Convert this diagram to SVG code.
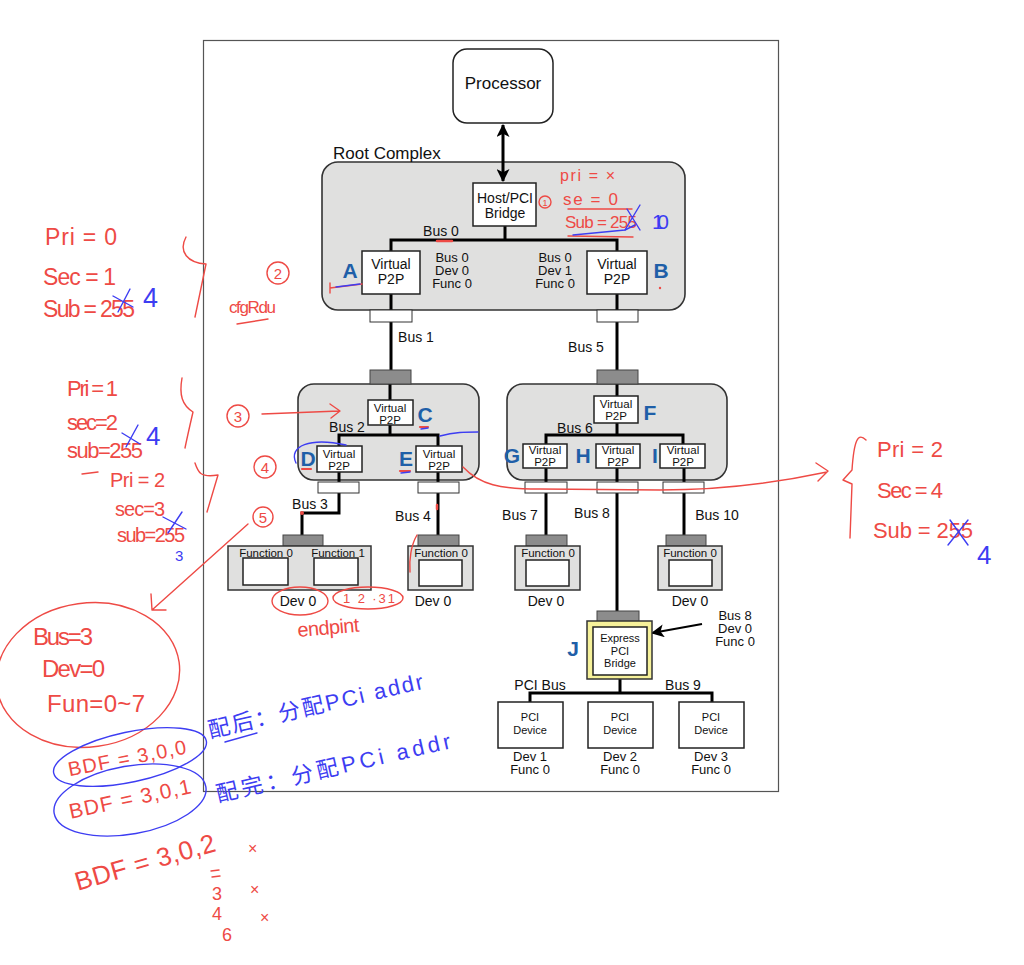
<svg xmlns="http://www.w3.org/2000/svg" width="1024" height="965" viewBox="0 0 1024 965">
<defs>
<marker id="ah" viewBox="0 0 12 12" refX="11" refY="6" markerWidth="13" markerHeight="13" markerUnits="userSpaceOnUse" orient="auto-start-reverse"><path d="M0,0 L12,6 L0,12 L3,6 z" fill="#000"/></marker>
</defs>
<style>
.t{font-family:"Liberation Sans",Arial,sans-serif;fill:#111;text-anchor:middle}
.box{fill:#fff;stroke:#222;stroke-width:1.5}
.grp{fill:#e0e0df;stroke:#333;stroke-width:1.6}
.port{fill:#8c8c8c;stroke:#444;stroke-width:1}
.wport{fill:#fff;stroke:#333;stroke-width:1}
.bus{stroke:#000;stroke-width:3;fill:none}
.lbl{font-family:"Liberation Sans",Arial,sans-serif;font-weight:bold;fill:#1f5fa8;text-anchor:middle;font-size:21px}
.hr{fill:none;stroke:#ee4a45;stroke-width:1.4;stroke-linecap:round;stroke-linejoin:round}
.hb{fill:none;stroke:#3d3df2;stroke-width:1.4;stroke-linecap:round;stroke-linejoin:round}
.tr{font-family:"Liberation Sans","Noto Sans CJK SC",sans-serif;fill:#ee4a45}
.tb{font-family:"Liberation Sans","Noto Sans CJK SC",sans-serif;fill:#3d3df2}
</style>
<rect x="0" y="0" width="1024" height="965" fill="#fff"/>
<rect x="203.5" y="40.5" width="575" height="751" fill="#fff" stroke="#555" stroke-width="1.2"/>

<g id="root-complex">
<rect class="grp" x="322" y="162" width="363" height="148" rx="16"/>
<text class="t" x="333" y="159" font-size="17" style="text-anchor:start">Root Complex</text>
</g>
<g id="switch-left"><rect class="grp" x="298" y="384" width="181" height="96" rx="16"/></g>
<g id="switch-right"><rect class="grp" x="507" y="384" width="220" height="96" rx="16"/></g>

<g id="connectors">
<line class="bus" x1="503" y1="125" x2="503" y2="181" marker-start="url(#ah)" marker-end="url(#ah)"/>
<path class="bus" d="M505,226 V240"/>
<path class="bus" d="M391,251 V240 H617 V251"/>
<path class="bus" d="M391,294 V372"/>
<path class="bus" d="M617,294 V372"/>
<path class="bus" d="M390,384 V400"/>
<path class="bus" d="M390,425 V435"/>
<path class="bus" d="M339,446 V435 H438 V446"/>
<path class="bus" d="M339,472 V513 H302 V535"/>
<path class="bus" d="M438,472 V535"/>
<path class="bus" d="M617,384 V396"/>
<path class="bus" d="M617,423 V435"/>
<path class="bus" d="M546,444 V435 H683 V444"/>
<path class="bus" d="M546,468 V535"/>
<path class="bus" d="M617,468 V611"/>
<path class="bus" d="M684,468 V535"/>
<path class="bus" d="M620,679 V693"/>
<path class="bus" d="M530,702 V693 H712 V702"/>
<line x1="702" y1="624" x2="652" y2="633" stroke="#000" stroke-width="2" marker-end="url(#ah)"/>
</g>

<g id="processor">
<rect class="box" x="453" y="49" width="100" height="74" rx="14"/>
<text class="t" x="503" y="89" font-size="17">Processor</text>
</g>
<g id="host-bridge">
<rect class="box" x="473" y="183" width="63" height="43"/>
<text class="t" x="505" y="203" font-size="14"><tspan x="505">Host/PCI</tspan><tspan x="505" dy="15">Bridge</tspan></text>
</g>
<g id="node-A">
<rect class="box" x="362" y="251" width="58" height="43"/>
<text class="t" x="391" y="269" font-size="14"><tspan x="391">Virtual</tspan><tspan x="391" dy="15">P2P</tspan></text>
<text class="lbl" x="350" y="278">A</text>
<text class="t" x="452" y="262" font-size="13"><tspan x="452">Bus 0</tspan><tspan x="452" dy="13">Dev 0</tspan><tspan x="452" dy="13">Func 0</tspan></text>
</g>
<g id="node-B">
<rect class="box" x="587" y="251" width="60" height="43"/>
<text class="t" x="617" y="269" font-size="14"><tspan x="617">Virtual</tspan><tspan x="617" dy="15">P2P</tspan></text>
<text class="lbl" x="661" y="278">B</text>
<text class="t" x="555" y="262" font-size="13"><tspan x="555">Bus 0</tspan><tspan x="555" dy="13">Dev 1</tspan><tspan x="555" dy="13">Func 0</tspan></text>
</g>
<g id="rc-ports">
<rect class="wport" x="370" y="310" width="42" height="12"/>
<rect class="wport" x="597" y="310" width="41" height="12"/>
</g>
<g id="bus-labels">
<text class="t" x="441" y="236" font-size="14">Bus 0</text>
<text class="t" x="416" y="342" font-size="14">Bus 1</text>
<text class="t" x="586" y="352" font-size="14">Bus 5</text>
<text class="t" x="347" y="432" font-size="14">Bus 2</text>
<text class="t" x="575" y="433" font-size="14">Bus 6</text>
<text class="t" x="310" y="509" font-size="14">Bus 3</text>
<text class="t" x="413" y="521" font-size="14">Bus 4</text>
<text class="t" x="520" y="520" font-size="14">Bus 7</text>
<text class="t" x="592" y="518" font-size="14">Bus 8</text>
<text class="t" x="717" y="520" font-size="14">Bus 10</text>
<text class="t" x="540" y="690" font-size="14">PCI Bus</text>
<text class="t" x="683" y="690" font-size="14">Bus 9</text>
</g>

<g id="node-C">
<rect class="port" x="370" y="370" width="41" height="14"/>
<rect class="box" x="368" y="400" width="45" height="25"/>
<text class="t" x="390" y="411.5" font-size="11.5"><tspan x="390">Virtual</tspan><tspan x="390" dy="12">P2P</tspan></text>
<text class="lbl" x="425" y="422">C</text>
</g>
<g id="node-D">
<rect class="box" x="317" y="446" width="45" height="26"/>
<text class="t" x="339" y="458" font-size="11.5"><tspan x="339">Virtual</tspan><tspan x="339" dy="12">P2P</tspan></text>
<text class="lbl" x="308" y="466">D</text>
<rect class="wport" x="318" y="482" width="41" height="11"/>
</g>
<g id="node-E">
<rect class="box" x="416" y="446" width="46" height="26"/>
<text class="t" x="439" y="458" font-size="11.5"><tspan x="439">Virtual</tspan><tspan x="439" dy="12">P2P</tspan></text>
<text class="lbl" x="406" y="466">E</text>
<rect class="wport" x="418" y="482" width="41" height="11"/>
</g>
<g id="node-F">
<rect class="port" x="597" y="370" width="41" height="14"/>
<rect class="box" x="594" y="396" width="44" height="27"/>
<text class="t" x="616" y="408" font-size="11.5"><tspan x="616">Virtual</tspan><tspan x="616" dy="12">P2P</tspan></text>
<text class="lbl" x="650" y="420">F</text>
</g>
<g id="node-G">
<rect class="box" x="523" y="444" width="44" height="24"/>
<text class="t" x="545" y="454" font-size="11.5"><tspan x="545">Virtual</tspan><tspan x="545" dy="12">P2P</tspan></text>
<text class="lbl" x="512" y="463">G</text>
<rect class="wport" x="525" y="482" width="42" height="11"/>
</g>
<g id="node-H">
<rect class="box" x="596" y="444" width="44" height="24"/>
<text class="t" x="618" y="454" font-size="11.5"><tspan x="618">Virtual</tspan><tspan x="618" dy="12">P2P</tspan></text>
<text class="lbl" x="583" y="463">H</text>
<rect class="wport" x="597" y="482" width="41" height="11"/>
</g>
<g id="node-I">
<rect class="box" x="660" y="444" width="45" height="24"/>
<text class="t" x="683" y="454" font-size="11.5"><tspan x="683">Virtual</tspan><tspan x="683" dy="12">P2P</tspan></text>
<text class="lbl" x="655" y="463">I</text>
<rect class="wport" x="663" y="482" width="41" height="11"/>
</g>

<g id="dev-bus3">
<rect class="port" x="283" y="535" width="40" height="11"/>
<rect class="grp" x="228" y="546" width="143" height="44" style="stroke-width:1.5"/>
<text class="t" x="266" y="557" font-size="11.5">Function 0</text>
<text class="t" x="338" y="557" font-size="11.5">Function 1</text>
<rect class="box" x="243" y="558" width="45" height="27"/>
<rect class="box" x="314" y="558" width="44" height="27"/>
<text class="t" x="298" y="606" font-size="14">Dev 0</text>
</g>
<g id="dev-bus4">
<rect class="port" x="418" y="535" width="41" height="11"/>
<rect class="grp" x="408" y="546" width="65" height="44" style="stroke-width:1.5"/>
<text class="t" x="441" y="557" font-size="11.5">Function 0</text>
<rect class="box" x="419" y="560" width="43" height="26"/>
<text class="t" x="433" y="606" font-size="14">Dev 0</text>
</g>
<g id="dev-bus7">
<rect class="port" x="526" y="535" width="41" height="11"/>
<rect class="grp" x="515" y="546" width="65" height="44" style="stroke-width:1.5"/>
<text class="t" x="548" y="557" font-size="11.5">Function 0</text>
<rect class="box" x="526" y="560" width="43" height="26"/>
<text class="t" x="546" y="606" font-size="14">Dev 0</text>
</g>
<g id="dev-bus10">
<rect class="port" x="666" y="535" width="40" height="11"/>
<rect class="grp" x="658" y="546" width="64" height="44" style="stroke-width:1.5"/>
<text class="t" x="690" y="557" font-size="11.5">Function 0</text>
<rect class="box" x="669" y="560" width="43" height="26"/>
<text class="t" x="690" y="606" font-size="14">Dev 0</text>
</g>

<g id="node-J">
<rect class="port" x="597" y="611" width="42" height="11"/>
<rect x="587" y="621" width="65" height="58" fill="#f6f19a" stroke="#333" stroke-width="1.5"/>
<rect class="box" x="593" y="627" width="54" height="48"/>
<text class="t" x="620" y="642" font-size="11"><tspan x="620">Express</tspan><tspan x="620" dy="12.5">PCI</tspan><tspan x="620" dy="12.5">Bridge</tspan></text>
<text class="lbl" x="573" y="656">J</text>
<text class="t" x="735" y="620" font-size="13"><tspan x="735">Bus 8</tspan><tspan x="735" dy="13">Dev 0</tspan><tspan x="735" dy="13">Func 0</tspan></text>
</g>
<g id="pci-dev1">
<rect class="box" x="498" y="702" width="65" height="46"/>
<text class="t" x="530" y="721" font-size="11"><tspan x="530">PCI</tspan><tspan x="530" dy="12.5">Device</tspan></text>
<text class="t" x="530" y="761" font-size="13"><tspan x="530">Dev 1</tspan><tspan x="530" dy="13">Func 0</tspan></text>
</g>
<g id="pci-dev2">
<rect class="box" x="588" y="702" width="65" height="46"/>
<text class="t" x="620" y="721" font-size="11"><tspan x="620">PCI</tspan><tspan x="620" dy="12.5">Device</tspan></text>
<text class="t" x="620" y="761" font-size="13"><tspan x="620">Dev 2</tspan><tspan x="620" dy="13">Func 0</tspan></text>
</g>
<g id="pci-dev3">
<rect class="box" x="679" y="702" width="65" height="46"/>
<text class="t" x="711" y="721" font-size="11"><tspan x="711">PCI</tspan><tspan x="711" dy="12.5">Device</tspan></text>
<text class="t" x="711" y="761" font-size="13"><tspan x="711">Dev 3</tspan><tspan x="711" dy="13">Func 0</tspan></text>
</g>

<g id="annotations">
<!-- root complex note -->
<circle class="hr" cx="545" cy="202" r="6"/>
<text class="tr" x="545" y="206" font-size="9" text-anchor="middle">1</text>
<text class="tr" x="560" y="181" font-size="16" textLength="55">pri = ×</text>
<text class="tr" x="563" y="205" font-size="17" textLength="55">se = 0</text>
<path class="hr" d="M568,209 L632,209"/>
<text class="tr" x="565" y="228" font-size="17" textLength="72">Sub = 255</text>
<path class="hb" d="M627,209 L640,230 M640,205 L625,230"/>
<text class="tb" x="652" y="229" font-size="21" textLength="17">10</text>
<path class="hr" d="M568,236 L633,237"/>
<path class="hb" d="M573,235 L625,230 L635,225"/>
<path class="hr" d="M437,241 L452,241" style="stroke-width:2.5"/>
<path class="hr" d="M330,288 L362,284 M330,283 L330,293"/>
<path class="hb" d="M336,287 L360,284"/>
<circle cx="660" cy="288" r="1.2" fill="#ee4a45"/>

<!-- left top block -->
<text class="tr" x="45" y="245" font-size="23" textLength="72">Pri = 0</text>
<text class="tr" x="43" y="285" font-size="23" textLength="73">Sec = 1</text>
<text class="tr" x="43" y="317" font-size="23" textLength="92">Sub = 255</text>
<path class="hb" d="M113,296 L133,307 M130,289 L118,312"/>
<text class="tb" x="143" y="307" font-size="27">4</text>
<path class="hr" d="M186,237 C178,252 188,263 206,264 L195,317"/>
<circle class="hr" cx="278" cy="273" r="11"/>
<text class="tr" x="278" y="279" font-size="15" text-anchor="middle">2</text>
<text class="tr" x="229" y="313" font-size="17" textLength="47">cfgRdu</text>
<path class="hr" d="M237,324 L268,319"/>

<!-- second block -->
<text class="tr" x="67" y="396" font-size="22" textLength="51">Pri = 1</text>
<text class="tr" x="67" y="430" font-size="22" textLength="51">sec=2</text>
<text class="tr" x="67" y="458" font-size="22" textLength="76">sub=255</text>
<path class="hb" d="M122,433 L140,444 M138,425 L126,447"/>
<text class="tb" x="146" y="445" font-size="26">4</text>
<path class="hr" d="M182,378 C179,395 182,405 193,412 C190,425 187,438 185,448"/>
<circle class="hr" cx="238" cy="416" r="11"/>
<text class="tr" x="238" y="422" font-size="15" text-anchor="middle">3</text>
<path class="hr" d="M262,414 L339,411 M330,404 L340,411 L331,418"/>

<!-- third block -->
<path class="hr" d="M82,474 L98,472"/>
<text class="tr" x="110" y="487" font-size="20" textLength="55">Pri = 2</text>
<text class="tr" x="115" y="516" font-size="20" textLength="50">sec=3</text>
<text class="tr" x="117" y="542" font-size="20" textLength="68">sub=255</text>
<path class="hb" d="M163,517 L186,529 M182,512 L168,533"/>
<text class="tb" x="175" y="561" font-size="15">3</text>
<path class="hr" d="M195,463 C198,472 200,478 218,475 L207,512"/>
<circle class="hr" cx="265" cy="467" r="11"/>
<text class="tr" x="265" y="473" font-size="15" text-anchor="middle">4</text>
<circle class="hr" cx="263" cy="517" r="10"/>
<text class="tr" x="263" y="523" font-size="15" text-anchor="middle">5</text>
<path class="hr" d="M248,524 L152,610 M151,594 L152,610 L166,610"/>

<!-- marks in switches -->
<path class="hb" d="M296,463 C288,446 310,437 346,445"/>
<path class="hb" d="M440,436 C455,432 465,432 478,432"/>
<path class="hr" d="M420,427 L428,427" style="stroke-width:2.2"/>
<path class="hb" d="M421,429 L428,428"/>
<path class="hr" d="M302,469 L311,469" style="stroke-width:2.2"/>
<path class="hr" d="M400,471 L410,471" style="stroke-width:2.2"/>
<path class="hb" d="M401,473 L410,472"/>
<path class="hr" d="M417,535 C411,545 409,560 410,572"/>
<path class="hr" d="M437,505 L437,509" style="stroke-width:2.5"/>
<circle cx="302" cy="513" r="2" fill="#ee4a45"/>

<!-- right note -->
<path class="hr" d="M463,467 C480,485 500,489 540,489 L660,490 C720,490 780,482 827,472 M816,463 L828,471 L818,481"/>
<path class="hr" d="M866,440 C858,432 854,440 852,470 L843,480 L852,484 L850,538"/>
<text class="tr" x="877" y="457" font-size="22" textLength="66">Pri = 2</text>
<text class="tr" x="877" y="498" font-size="22" textLength="66">Sec = 4</text>
<text class="tr" x="873" y="538" font-size="22" textLength="100">Sub = 255</text>
<path class="hb" d="M950,520 L968,545 M968,520 L948,545"/>
<text class="tb" x="977" y="564" font-size="26">4</text>

<!-- dev0 ellipses -->
<ellipse class="hr" cx="300" cy="601" rx="28" ry="14"/>
<ellipse class="hr" cx="368" cy="598" rx="35" ry="11"/>
<text class="tr" x="343" y="603" font-size="13" textLength="52">1 2  ·31</text>
<text class="tr" x="298" y="637" font-size="20" textLength="62" transform="rotate(-5 298 637)">endpint</text>

<!-- bottom left -->
<ellipse class="hr" cx="88" cy="675" rx="92" ry="72" transform="rotate(-8 88 675)"/>
<text class="tr" x="33" y="645" font-size="24" textLength="60">Bus=3</text>
<text class="tr" x="42" y="677" font-size="24" textLength="63">Dev=0</text>
<text class="tr" x="47" y="712" font-size="24" textLength="98">Fun=0~7</text>
<ellipse class="hb" cx="130" cy="757" rx="78" ry="25" transform="rotate(-12 130 757)"/>
<text class="tr" x="127" y="765" font-size="20" text-anchor="middle" textLength="120" transform="rotate(-11 127 758)">BDF = 3,0,0</text>
<ellipse class="hb" cx="130" cy="800" rx="77" ry="34" transform="rotate(-10 130 800)"/>
<text class="tr" x="130" y="806" font-size="21" text-anchor="middle" textLength="124" transform="rotate(-12 130 799)">BDF = 3,0,1</text>
<text class="tr" x="145" y="871" font-size="26" text-anchor="middle" textLength="145" transform="rotate(-16 145 862)">BDF = 3,0,2</text>
<path class="hr" d="M211,871 L219,870 M212,877 L220,876"/>
<text class="tr" x="212" y="900" font-size="18">3</text>
<text class="tr" x="212" y="920" font-size="18">4</text>
<text class="tr" x="222" y="941" font-size="18">6</text>
<text class="tr" x="248" y="854" font-size="16">×</text>
<text class="tr" x="250" y="895" font-size="16">×</text>
<text class="tr" x="260" y="923" font-size="16">×</text>

<!-- blue chinese notes -->
<text class="tb" x="210" y="738" font-size="22" textLength="220" transform="rotate(-13 210 738)">配后：分配PCi addr</text>
<path class="hb" d="M225,742 L257,733"/>
<text class="tb" x="218" y="802" font-size="22" textLength="240" transform="rotate(-13 218 802)">配完：分配PCi addr</text>
</g>
</svg>
